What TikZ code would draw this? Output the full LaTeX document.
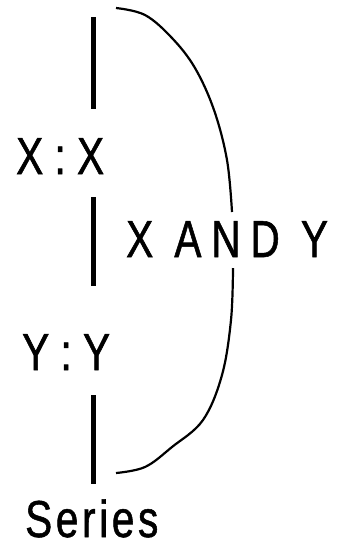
\documentclass[tikz,border=0pt]{standalone}
\usepackage{fontspec}
\setmainfont{Liberation Sans}[FakeStretch=0.78,FakeBold=1]
\newfontfamily\spaced{Liberation Sans}[FakeStretch=0.78,FakeBold=1,LetterSpace=19]
\newfontfamily\slight{Liberation Sans}[FakeStretch=0.78,FakeBold=1,LetterSpace=7]
\begin{document}
\begin{tikzpicture}[x=1pt,y=-1pt,
  lbl/.style={inner sep=0pt,anchor=base west,font=\fontsize{52}{52}\selectfont},
  bar/.style={line width=5pt},
  brace/.style={line width=2.2pt}]
\useasboundingbox (0,0) rectangle (340,547);
\node[lbl] (xx) at (16,174) {X : X};
\node[lbl] (yy) at (22,370) {Y : Y};
\node[lbl] (ser) at (25,537) {\slight Series};
\node[lbl] (xy) at (126,257) {\spaced X AND Y};
\coordinate (a1) at (93.5,17);  \coordinate (a2) at (93.5,109);
\coordinate (b1) at (93.5,197); \coordinate (b2) at (93.5,286);
\coordinate (c1) at (93.5,395); \coordinate (c2) at (93.5,484);
\draw[bar] (a1) -- (a2);
\draw[bar] (b1) -- (b2);
\draw[bar] (c1) -- (c2);
\draw[brace] plot[smooth,tension=0.6] coordinates {(116,8) (145,15) (172,38) (195,68) (214,110) (227,160) (232,212)};
\draw[brace] plot[smooth,tension=0.6] coordinates {(233,268) (231,320) (222,375) (203,420) (172,447) (145,467) (116,473)};
\end{tikzpicture}
\end{document}
